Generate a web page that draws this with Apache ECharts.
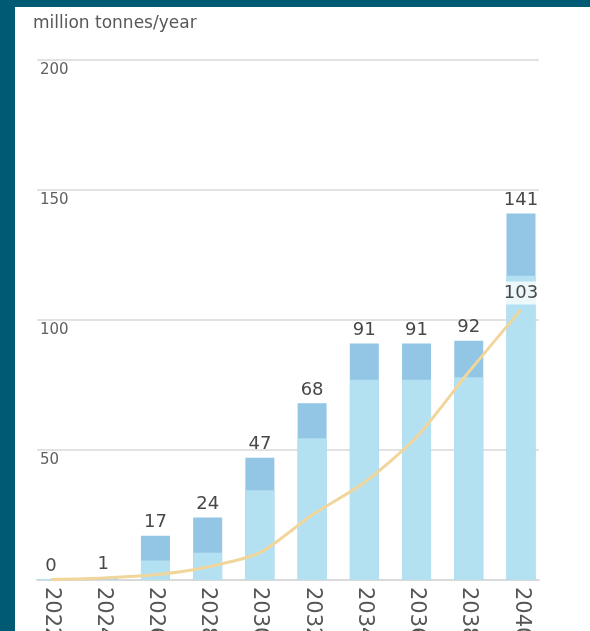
<!DOCTYPE html>
<html>
<head>
<meta charset="utf-8">
<script src="https://cdn.jsdelivr.net/npm/echarts@6/dist/echarts.min.js"></script>
<style>
  html, body { margin: 0; padding: 0; background: #005a73; width: 590px; height: 631px; overflow: hidden; }
  #chart { position: absolute; left: 15px; top: 7px; width: 575px; height: 624px; background: #fff; }
</style>
</head>
<body>
<div id="chart"></div>
<script>
const years = [2022, 2024, 2026, 2028, 2030, 2032, 2034, 2036, 2038, 2040]
const baseValues = [0.4, 0.3, 7.5, 10.5, 34.5, 54.5, 77, 77, 78, 117]
const topValues = [0, 0.7, 9.5, 13.5, 12.5, 13.5, 14, 14, 14, 24]
const totals = [0, 1, 17, 24, 47, 68, 91, 91, 92, 141]
const lineValues = [0.2, 0.8, 2, 5, 10.5, 25, 37.5, 55, 80, 104]
const yTicks = [0, 50, 100, 150, 200]

const font = 'DejaVu Sans'
const chart = echarts.init(document.getElementById('chart'))

// the darker part is drawn as the full stack height, with the lighter base over it
const stackHeights = baseValues.map((v, i) => v + topValues[i])

const option = {
  animation: false,
  title: {
    text: 'million tonnes/year',
    left: 13,
    top: 3,
    textStyle: { fontFamily: font, fontSize: 17, fontWeight: 'normal', color: '#585858' }
  },
  grid: { left: 22, right: 51, top: 53, bottom: 51, outerBoundsMode: 'none' },
  xAxis: {
    type: 'value',
    min: 2021.464,
    max: 2040.69,
    splitLine: { show: false },
    axisTick: { show: false },
    axisLine: { show: true, lineStyle: { color: '#d6d6d6', width: 1.5 } },
    axisLabel: {
      customValues: years,
      rotate: -90,
      margin: 7,
      fontFamily: font,
      fontSize: 21,
      color: '#555',
      formatter: v => String(v)
    }
  },
  yAxis: {
    type: 'value',
    min: yTicks[0],
    max: yTicks[yTicks.length - 1],
    interval: 50,
    axisLine: { show: false },
    axisTick: { show: false },
    splitLine: { lineStyle: { color: '#d9d9d9', width: 1.5 } },
    axisLabel: {
      inside: true,
      margin: 3,
      verticalAlign: 'top',
      padding: [3, 0, 0, 0],
      fontFamily: font,
      fontSize: 15,
      color: '#606060',
      formatter: v => (v === 0 ? '' : v)
    }
  },
  series: [
    {
      type: 'bar',
      barWidth: 29,
      barGap: '-100%',
      z: 2,
      itemStyle: { color: '#93c6e4' },
      label: {
        show: true,
        position: 'top',
        distance: 4,
        fontFamily: font,
        fontSize: 18,
        color: '#484848',
        formatter: p => totals[p.dataIndex]
      },
      data: years.map((y, i) => [y, stackHeights[i]])
    },
    {
      type: 'bar',
      barWidth: 29,
      barGap: '-100%',
      z: 3,
      itemStyle: { color: '#b3e1f2' },
      data: years.map((y, i) => [y, baseValues[i]])
    },
    {
      type: 'line',
      smooth: 0.25,
      symbol: 'circle',
      symbolSize: 0,
      showSymbol: true,
      z: 5,
      lineStyle: { color: '#f1d69b', width: 3 },
      label: { show: false },
      data: years.map((y, i) => {
        const item = { value: [y, lineValues[i]] }
        if (i === years.length - 1) {
          item.label = {
            show: true,
            position: 'top',
            distance: 5,
            fontFamily: font,
            fontSize: 18,
            color: '#484848',
            backgroundColor: 'rgba(255,255,255,0.75)',
            padding: [3, 4, 2, 4],
            formatter: () => '103'
          }
        }
        return item
      })
    }
  ]
}

chart.setOption(option)
</script>
</body>
</html>
